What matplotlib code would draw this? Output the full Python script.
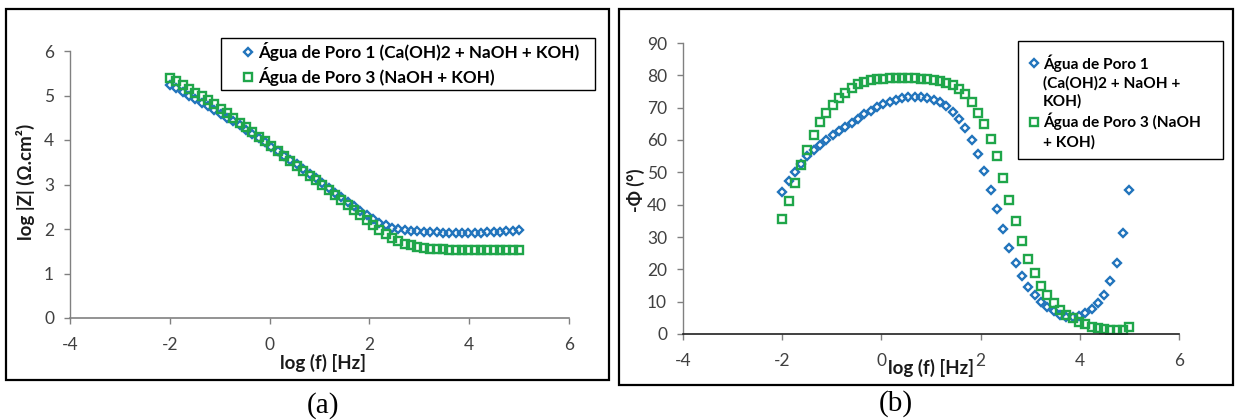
import numpy as np
import matplotlib
matplotlib.use("Agg")
import matplotlib.pyplot as plt
from matplotlib.patches import Rectangle
from matplotlib.lines import Line2D

# ---------------- data ----------------
log_f = np.linspace(-2, 5, 56)  # measurement grid, log10(frequency / Hz)

logZ_poro1 = [5.24, 5.16, 5.08, 5.00, 4.92, 4.84, 4.76, 4.68, 4.59, 4.50,
              4.42, 4.33, 4.23, 4.14, 4.04, 3.95, 3.85, 3.75, 3.65, 3.55,
              3.45, 3.34, 3.24, 3.14, 3.03, 2.93, 2.82, 2.72, 2.61, 2.51,
              2.41, 2.31, 2.22, 2.14, 2.08, 2.03, 2.00, 1.98, 1.96, 1.95,
              1.94, 1.93, 1.93, 1.92, 1.92, 1.92, 1.92, 1.92, 1.92, 1.92,
              1.93, 1.93, 1.94, 1.95, 1.96, 1.98]
logZ_poro3 = [5.40, 5.32, 5.24, 5.15, 5.06, 4.98, 4.89, 4.80, 4.70, 4.60,
              4.50, 4.39, 4.29, 4.18, 4.07, 3.97, 3.86, 3.75, 3.64, 3.53,
              3.42, 3.31, 3.20, 3.09, 2.98, 2.87, 2.76, 2.65, 2.53, 2.42,
              2.31, 2.20, 2.09, 1.98, 1.88, 1.80, 1.73, 1.67, 1.63, 1.60,
              1.57, 1.56, 1.55, 1.54, 1.53, 1.53, 1.53, 1.52, 1.52, 1.52,
              1.52, 1.52, 1.52, 1.52, 1.52, 1.53]

phase_poro1 = [44.0, 47.3, 50.0, 52.6, 55.0, 57.0, 58.6, 60.0, 61.4, 62.7,
               64.0, 65.3, 66.6, 67.9, 69.1, 70.2, 71.1, 71.9, 72.5, 72.9,
               73.2, 73.3, 73.3, 73.0, 72.5, 71.7, 70.5, 68.8, 66.5, 63.7,
               60.0, 55.8, 50.5, 44.6, 38.6, 32.6, 26.7, 22.0, 18.0, 14.5,
               12.0, 10.0, 8.3, 7.0, 6.0, 5.4, 5.2, 5.6, 6.5, 7.8,
               9.5, 12.2, 16.3, 22.0, 31.3, 44.4]
phase_poro3 = [35.5, 41.0, 46.7, 52.3, 57.0, 61.5, 65.5, 68.5, 70.9, 72.9,
               74.6, 76.1, 77.2, 78.0, 78.5, 78.8, 79.0, 79.1, 79.1, 79.1,
               79.1, 79.1, 79.0, 78.9, 78.7, 78.3, 77.7, 76.9, 75.8, 74.2,
               71.6, 68.5, 64.9, 60.2, 54.9, 48.4, 41.5, 35.1, 28.9, 23.3,
               18.8, 15.0, 12.1, 9.5, 7.4, 5.9, 4.8, 3.8, 3.0, 2.3,
               1.8, 1.5, 1.3, 1.2, 1.2, 2.2]

label1_a = "Água de Poro 1 (Ca(OH)2 + NaOH + KOH)"
label3_a = "Água de Poro 3 (NaOH + KOH)"
label1_b_lines = ["Água de Poro 1", "(Ca(OH)2 + NaOH +", "KOH)"]
label3_b_lines = ["Água de Poro 3 (NaOH", "+ KOH)"]

x_ticks = [-4, -2, 0, 2, 4, 6]
yticks_a = [0, 1, 2, 3, 4, 5, 6]
yticks_b = [0, 10, 20, 30, 40, 50, 60, 70, 80, 90]

# ---------------- style ----------------
BLUE = "#2174BC"
GREEN = "#1FA64A"
FONT = "Lato"
TICKC = "#404040"
LABC = "#1a1a1a"
plt.rcParams["font.family"] = [FONT, "DejaVu Sans"]

W, H = 1235, 420
fig = plt.figure(figsize=(W / 100, H / 100), dpi=100)

def fx(px):
    return px / W

def fy(py):
    return 1 - py / H

def frame(x0, y0, x1, y1, lw):
    fig.add_artist(Rectangle((fx(x0), fy(y1)), fx(x1 - x0), (y1 - y0) / H,
                             transform=fig.transFigure, fill=False,
                             edgecolor="black", linewidth=lw, zorder=5))

# panel frames
frame(6, 9, 609, 380, 1.6)
frame(619, 9, 1233, 385, 1.6)

# axes
axA = fig.add_axes([fx(70), fy(318), fx(569 - 70), (318 - 51) / H])
axB = fig.add_axes([fx(683), fy(334), fx(1179 - 683), (334 - 43) / H])

mk1 = dict(marker="D", markersize=4.2, markerfacecolor="none",
           markeredgecolor=BLUE, markeredgewidth=1.7, linestyle="none")
mk3 = dict(marker="s", markersize=5.6, markerfacecolor="none",
           markeredgecolor=GREEN, markeredgewidth=1.7, linestyle="none")

lA1, = axA.plot(log_f, logZ_poro1, label=label1_a, **mk1)
lA3, = axA.plot(log_f, logZ_poro3, label=label3_a, **mk3)
lB1, = axB.plot(log_f, phase_poro1, **mk1)
lB3, = axB.plot(log_f, phase_poro3, **mk3)

for ax, yt, ylim, xcol in ((axA, yticks_a, (0, 6), "#808080"),
                           (axB, yticks_b, (0, 90), "#202020")):
    ax.set_xlim(-4, 6)
    ax.set_ylim(*ylim)
    ax.set_xticks(x_ticks)
    ax.set_yticks(yt)
    ax.set_xticklabels([str(v) for v in x_ticks])
    ax.set_yticklabels([str(v) for v in yt])
    for s in ("top", "right"):
        ax.spines[s].set_visible(False)
    ax.spines["left"].set_color("#808080")
    ax.spines["bottom"].set_color(xcol)
    ax.spines["left"].set_linewidth(1.0)
    ax.spines["bottom"].set_linewidth(1.2)
    ax.tick_params(axis="y", direction="out", length=4.5, width=1.0,
                   color="#808080", pad=7, labelsize=12.5, labelcolor=TICKC)
    ax.tick_params(axis="x", direction="out", length=4, width=1.0,
                   color="#808080", pad=9.5, labelsize=12.5, labelcolor=TICKC)
    ax.set_facecolor("none")

# axis labels
fig.text(fx(323), fy(363), "log (f) [Hz]", ha="center", va="center",
         fontsize=13.5, fontweight="bold", color=LABC)
fig.text(fx(25), fy(182), "log |Z| (Ω.cm²)", ha="center", va="center",
         rotation=90, fontsize=13.5, fontweight="bold", color=LABC)
fig.text(fx(931), fy(368), "log (f) [Hz]", ha="center", va="center",
         fontsize=13.5, fontweight="bold", color=LABC)
fig.text(fx(636), fy(190), "-Φ (°)", ha="center", va="center",
         rotation=90, fontsize=13, fontweight="bold", color=LABC)

# legends (frames drawn separately)
frame(221, 38, 595, 90, 1.0)
legA = axA.legend(handles=[lA1, lA3], labels=[label1_a, label3_a],
                  loc="upper left", bbox_to_anchor=(fx(241), fy(42)),
                  bbox_transform=fig.transFigure, borderaxespad=0,
                  borderpad=0, frameon=False,
                  handlelength=0.8, handletextpad=0.2,
                  labelspacing=0.36, prop=dict(family=FONT, weight="bold", size=12.3))

frame(1018, 41, 1223, 159, 1.0)
blank = Line2D([], [], linestyle="none", marker="")
handlesB = [lB1] + [blank] * (len(label1_b_lines) - 1) + [lB3] + [blank] * (len(label3_b_lines) - 1)
labelsB = label1_b_lines + label3_b_lines
legB = axB.legend(handles=handlesB, labels=labelsB,
                  loc="upper left", bbox_to_anchor=(fx(1027), fy(54)),
                  bbox_transform=fig.transFigure, borderaxespad=0,
                  borderpad=0, frameon=False,
                  handlelength=0.85, handletextpad=0.2,
                  labelspacing=0.27, prop=dict(family=FONT, weight="bold", size=11.1))

# panel captions
fig.text(fx(323), fy(406), "(a)", ha="center", va="center",
         fontsize=21, family="Liberation Serif", color="black")
fig.text(fx(896), fy(404), "(b)", ha="center", va="center",
         fontsize=21, family="Liberation Serif", color="black")

fig.savefig("out.png", dpi=100)
